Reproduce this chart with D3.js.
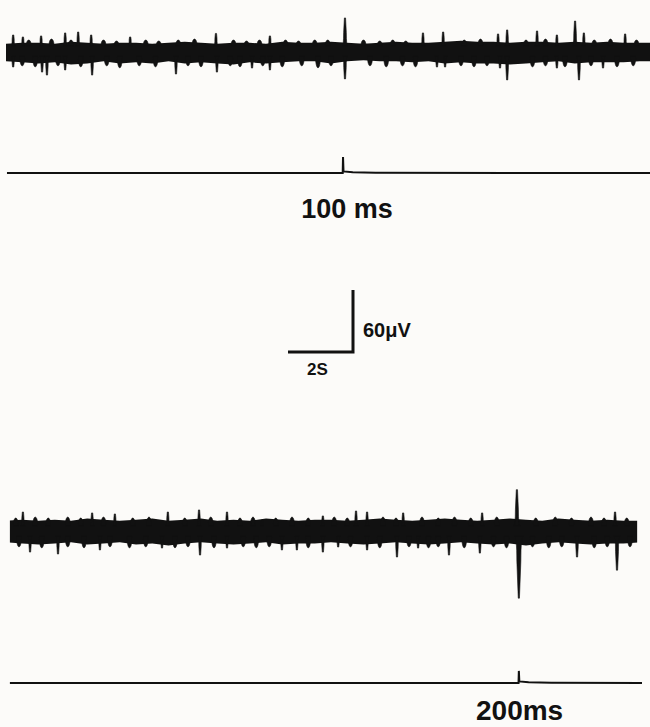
<!DOCTYPE html>
<html>
<head>
<meta charset="utf-8">
<script src="https://cdn.jsdelivr.net/npm/d3@7"></script>
<style>
  body { margin: 0; background: #fcfbf9; }
  svg { display: block; }
  text { font-family: "Liberation Sans", Arial, sans-serif; fill: #111; font-weight: bold; }
</style>
</head>
<body>
<svg id="chart"></svg>
<script>
// time in seconds, amplitude in microvolts (relative to each trace's baseline)
const envTimes = [0, 0.5, 1, 1.5, 2, 2.5, 3, 3.5, 4, 4.5, 5, 5.5, 6, 6.5, 7, 7.5, 8, 8.5, 9, 9.5,
  10, 10.5, 11, 11.5, 12, 12.5, 13, 13.5, 14, 14.5, 15, 15.5, 16, 16.5, 17, 17.5, 18, 18.5, 19, 19.5, 20];

// trace 1 (100 ms stimulus)
const topUp = [7, 8, 8, 7, 9, 8, 7, 8, 8, 7, 8, 9, 8, 7, 8, 8, 7, 9, 8, 8,
  9, 8, 7, 8, 9, 8, 8, 9, 10, 9, 9, 8, 9, 9, 8, 9, 8, 9, 8, 8, 8];
const topDown = [10, 11, 12, 11, 13, 12, 10, 12, 11, 12, 10, 12, 11, 12, 13, 11, 12, 11, 10, 10,
  12, 10, 9, 10, 10, 11, 10, 12, 11, 12, 12, 13, 12, 11, 10, 12, 11, 11, 11, 10, 10];
const topSpikesUp = [
  [0.22, 15.5], [0.52, 13.6], [1.08, 14.6], [1.82, 17.5], [2.22, 18.4], [2.62, 15.5],
  [3.82, 13.6], [6.46, 17], [8.12, 14.6], [10.43, 32], [12.83, 17.5], [13.45, 18.4],
  [15.14, 16.5], [15.42, 20.4], [16.34, 19.4], [16.95, 15.5], [17.51, 29], [17.78, 17.5], [19.05, 16.5]
];
const topSpikesDown = [
  [0.22, 15.5], [1.11, 20.4], [1.26, 23.3], [1.82, 18.4], [2.65, 23.3], [5.23, 22.3],
  [6.49, 20.4], [7.57, 16.5], [8.12, 18.4], [10.43, 27], [13.26, 15.5], [13.51, 15.5],
  [15.2, 16.5], [15.42, 28], [16.95, 16.5], [17.63, 28], [18.37, 16.5]
];
const topBumpsUp = [
  [0.7, 11], [1.4, 12], [2.0, 11], [3.0, 11], [3.4, 10], [4.3, 11], [4.7, 10], [5.3, 11],
  [5.8, 12], [7.0, 11], [7.4, 10], [7.8, 11], [8.6, 11], [9.0, 10], [9.5, 11], [9.9, 11],
  [11.0, 11], [11.5, 10], [11.9, 11], [12.3, 10], [14.1, 11], [14.6, 12], [16.0, 11],
  [16.6, 12], [18.1, 11], [18.6, 12], [19.4, 11]
];
const topBumpsDown = [
  [0.5, 15], [0.9, 16], [1.6, 15], [2.3, 16], [3.1, 15], [3.5, 17], [4.1, 15], [4.6, 16],
  [5.6, 15], [6.0, 16], [6.9, 15], [7.2, 16], [7.9, 15], [8.5, 16], [9.1, 15], [9.6, 17],
  [10.0, 15], [11.2, 15], [11.7, 16], [12.2, 15], [12.6, 16], [14.0, 15], [14.4, 16],
  [14.8, 15], [16.2, 16], [16.6, 15], [17.2, 16], [18.0, 15], [18.8, 16], [19.3, 15]
];
const topSpan = [0, 19.85];
const topStim = { span: [0.03, 19.85], t: 10.37, amp: 15.5 };

// trace 2 (200 ms stimulus)
const botUp = [10, 11, 10, 11, 10, 12, 11, 10, 11, 12, 10, 11, 12, 10, 11, 10, 12, 11, 10, 11,
  11, 10, 11, 12, 11, 10, 11, 12, 11, 10, 11, 12, 11, 10, 12, 11, 10, 11, 10, 10, 10];
const botDown = [11, 12, 13, 12, 11, 13, 12, 11, 13, 12, 14, 12, 11, 12, 13, 12, 11, 13, 12, 12,
  11, 12, 13, 12, 11, 12, 13, 12, 11, 12, 13, 12, 14, 12, 11, 12, 13, 12, 12, 11, 11];
const botSpikesUp = [
  [0.52, 18.4], [2.65, 17.5], [3.35, 16.5], [4.98, 18.4], [5.94, 20.4], [6.8, 18.4],
  [7.88, 10.7], [9.75, 14.6], [10.77, 19.4], [11.11, 18.4], [12.22, 17.5], [14.65, 17.5],
  [15.72, 40], [18.74, 18.4]
];
const botSpikesDown = [
  [0.74, 20.4], [1.6, 22.3], [2.89, 18.4], [4.8, 16.5], [5.97, 23.3], [6.8, 16.5],
  [8.49, 18.4], [8.95, 18.4], [9.75, 20.4], [10.22, 15.5], [11.11, 18.4], [12.03, 25.2],
  [12.68, 16.5], [13.63, 23.3], [14.58, 21.4], [15.78, 65], [17.57, 25.2], [18.8, 37.9]
];
const botBumpsUp = [
  [0.3, 13], [0.9, 14], [1.3, 13], [1.9, 14], [2.3, 13], [3.0, 14], [3.9, 13], [4.4, 14],
  [5.5, 13], [6.3, 14], [7.2, 13], [7.6, 14], [8.3, 13], [8.8, 14], [9.3, 13], [10.1, 14],
  [10.5, 13], [11.6, 14], [12.0, 13], [12.8, 14], [13.3, 13], [13.8, 14], [14.3, 13],
  [15.1, 14], [16.3, 13], [16.9, 14], [17.4, 13], [18.0, 14], [18.4, 13], [19.1, 13]
];
const botBumpsDown = [
  [0.4, 16], [1.1, 17], [1.9, 16], [2.4, 17], [3.2, 16], [3.8, 17], [4.3, 16], [5.2, 17],
  [5.6, 16], [6.4, 17], [7.3, 16], [7.7, 17], [8.1, 16], [9.3, 17], [10.6, 16], [11.5, 17],
  [12.4, 16], [13.0, 17], [13.3, 16], [14.1, 17], [15.0, 16], [15.4, 17], [16.2, 16],
  [16.7, 17], [17.1, 16], [18.1, 17], [18.5, 16], [19.2, 16]
];
const botSpan = [0.12, 19.42];
const botStim = { span: [0.12, 19.57], t: 15.78, amp: 11.7 };

const labels = ['100 ms', '200ms'];
const scaleBar = { seconds: 2, microvolts: 60, secLabel: '2S', uvLabel: '60\u03bcV' };

const W = 650, H = 727;
const ink = '#111';

const svg = d3.select('#chart').attr('width', W).attr('height', H);

const x = d3.scaleLinear().domain([0, 20]).range([6, 656]);
const pxPerUv = 62 / 60;
const yFor = base => d3.scaleLinear().domain([-1, 1]).range([base + pxPerUv, base - pxPerUv]);

function drawTrace(g, base, span, env, marks, id) {
  const y = yFor(base);
  const pts = envTimes.map((t, i) => ({ t, up: env.up[i], dn: env.down[i] }));

  g.append('clipPath').attr('id', id)
    .append('rect')
    .attr('x', x(span[0])).attr('width', x(span[1]) - x(span[0]))
    .attr('y', 0).attr('height', H);

  const band = g.append('g').attr('clip-path', `url(#${id})`);

  band.append('path')
    .datum(pts)
    .attr('fill', ink)
    .attr('d', d3.area()
      .x(d => x(d.t))
      .y0(d => y(-d.dn))
      .y1(d => y(d.up))
      .curve(d3.curveLinear));

  // thin tapered stroke rising from a small blob at the band edge
  const spikePath = (dir) => (d) => {
    const cx = x(d[0]);
    const amp = d[1];
    const wb = 2.5 + amp * 0.1;
    const wn = 1.4 + amp * 0.04;
    const yb = y(dir * 5);
    const yn = y(dir * Math.min(amp, 10 + (amp - 10) * 0.35));
    const yt = y(dir * amp);
    return `M${cx - wb / 2},${yb} Q${cx - wn / 2},${yb} ${cx - wn / 2},${yn} L${cx - 0.6},${yt} `
      + `L${cx + 0.6},${yt} L${cx + wn / 2},${yn} Q${cx + wn / 2},${yb} ${cx + wb / 2},${yb} Z`;
  };

  // rounded lobe hanging off the band edge
  const bumpPath = (dir) => (d) => {
    const cx = x(d[0]);
    const w = 5;
    const yb = y(dir * 5);
    const yt = y(dir * d[1]);
    const yc = yt + (yt - yb) * 0.25;
    return `M${cx - w / 2},${yb} C${cx - w / 2},${yc} ${cx + w / 2},${yc} ${cx + w / 2},${yb} Z`;
  };

  const groups = [
    ['bump-up', marks.bumpsUp, 1, bumpPath],
    ['bump-down', marks.bumpsDown, -1, bumpPath],
    ['spike-up', marks.spikesUp, 1, spikePath],
    ['spike-down', marks.spikesDown, -1, spikePath],
  ];

  groups.forEach(([cls, data, dir, shape]) => {
    band.selectAll('.' + cls)
      .data(data)
      .enter()
      .append('path')
      .attr('class', cls)
      .attr('fill', ink)
      .attr('stroke', ink)
      .attr('stroke-width', 0.6)
      .attr('stroke-linejoin', 'round')
      .attr('d', shape(dir));
  });
}

function drawStim(g, base, stim) {
  const y = yFor(base);
  const [t0, t1] = stim.span;
  const pts = [
    [t0, 0], [stim.t - 0.01, 0], [stim.t, stim.amp], [stim.t + 0.015, 1.5],
    [stim.t + 0.3, 0.7], [stim.t + 1.0, 0.2], [t1, 0]
  ];
  g.append('path')
    .datum(pts)
    .attr('fill', 'none')
    .attr('stroke', ink)
    .attr('stroke-width', 2)
    .attr('stroke-linejoin', 'miter')
    .attr('d', d3.line().x(d => x(d[0])).y(d => y(d[1])));
}

const g1 = svg.append('g').attr('class', 'trace-top');
drawTrace(g1, 51, topSpan, { up: topUp, down: topDown },
  { spikesUp: topSpikesUp, spikesDown: topSpikesDown, bumpsUp: topBumpsUp, bumpsDown: topBumpsDown },
  'clip-top');
drawStim(g1, 173, topStim);

const g2 = svg.append('g').attr('class', 'trace-bottom');
drawTrace(g2, 531, botSpan, { up: botUp, down: botDown },
  { spikesUp: botSpikesUp, spikesDown: botSpikesDown, bumpsUp: botBumpsUp, bumpsDown: botBumpsDown },
  'clip-bot');
drawStim(g2, 683, botStim);

svg.append('text')
  .attr('x', 347).attr('y', 218)
  .attr('text-anchor', 'middle')
  .style('font-size', '27px')
  .text(labels[0]);

svg.append('text')
  .attr('x', 476).attr('y', 720)
  .style('font-size', '28px')
  .text(labels[1]);

// scale bar
const corner = [353, 352];
const sb = svg.append('g').attr('class', 'scale-bar');
sb.append('path')
  .attr('fill', 'none')
  .attr('stroke', ink)
  .attr('stroke-width', 3)
  .attr('d', `M${corner[0] - (x(scaleBar.seconds) - x(0))},${corner[1]} H${corner[0]} V${corner[1] - scaleBar.microvolts * pxPerUv}`);

sb.append('text')
  .attr('x', corner[0] + 10).attr('y', corner[1] - 15)
  .style('font-size', '20px')
  .text(scaleBar.uvLabel);

sb.append('text')
  .attr('x', corner[0] - 46).attr('y', corner[1] + 23)
  .style('font-size', '17px')
  .text(scaleBar.secLabel);
</script>
</body>
</html>
